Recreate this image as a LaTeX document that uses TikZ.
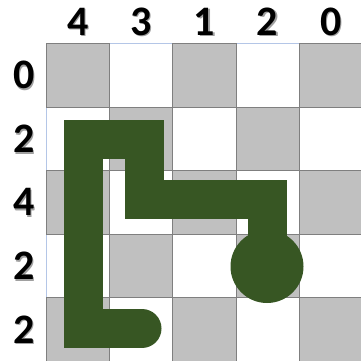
\documentclass[tikz,border=0pt]{standalone}
\usepackage{fontspec}
\setmainfont{Carlito}
\definecolor{cellgray}{HTML}{C0C0C0}
\definecolor{gborder}{HTML}{7F7F7F}
\definecolor{wborder}{HTML}{B4C6E7}
\definecolor{pathgreen}{HTML}{375623}
\definecolor{shadowgray}{HTML}{A0A0A0}
\tikzset{
  lbl/.style={font=\fontsize{42}{42}\selectfont\bfseries, text=black, inner sep=0pt},
  lblshadow/.style={font=\fontsize{42}{42}\selectfont\bfseries, text=shadowgray, inner sep=0pt},
  pathline/.style={draw=pathgreen, line width=39pt, line join=miter, line cap=round},
}
\begin{document}
\begin{tikzpicture}[x=1pt,y=-1pt]
\useasboundingbox (0,0) rectangle (360,361);
\def\cw{63.3}
\def\ch{63.5}
% white cells
\foreach \i in {0,...,4}{
  \foreach \j in {0,...,4}{
    \pgfmathtruncatemacro\myparity{mod(\i+\j,2)}
    \ifnum\myparity=1
      \draw[wborder, line width=0.8pt] ({46+\cw*\i},{43.5+\ch*\j}) rectangle ++(\cw,\ch);
    \fi
  }
}
% gray cells
\foreach \i in {0,...,4}{
  \foreach \j in {0,...,4}{
    \pgfmathtruncatemacro\myparity{mod(\i+\j,2)}
    \ifnum\myparity=0
      \filldraw[fill=cellgray, draw=gborder, line width=0.8pt] ({46+\cw*\i},{43.5+\ch*\j}) rectangle ++(\cw,\ch);
    \fi
  }
}
% column labels
\foreach \v [count=\k from 0] in {4,3,1,2,0}{
  \node[lblshadow] at ({46+\cw*\k+\cw/2+1.5},{21.5+1.5}) {\v};
  \node[lbl] (c\k) at ({46+\cw*\k+\cw/2},21.5) {\v};
}
% row labels
\foreach \v [count=\k from 0] in {0,2,4,2,2}{
  \node[lblshadow] at ({24+1.5},{43.5+\ch*\k+\ch/2+1.5}) {\v};
  \node[lbl] (r\k) at (24,{43.5+\ch*\k+\ch/2}) {\v};
}
% path
\draw[pathline] (142,328.5) -- (83.5,328.5) -- (83.5,139) -- (144,139) -- (144,199.5) -- (267.5,199.5) -- (267.5,262);
\fill[pathgreen] (267,266.5) circle (36.5);
\end{tikzpicture}
\end{document}
